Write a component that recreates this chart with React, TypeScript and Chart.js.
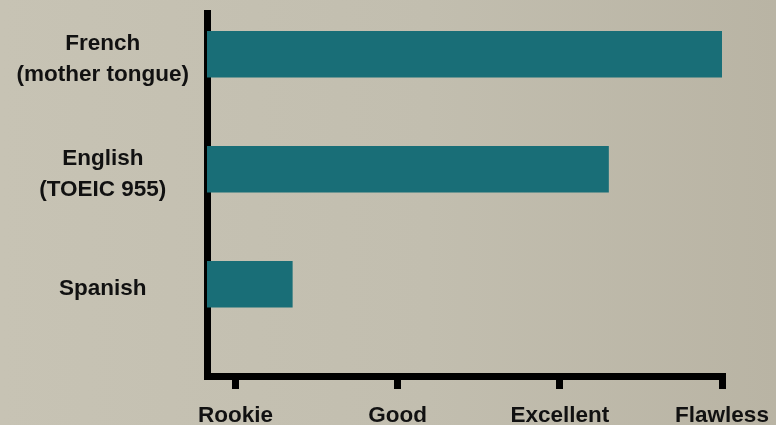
import React, { useEffect, useRef } from "react";
import { Chart, registerables } from "chart.js";

Chart.register(...registerables);

// Category labels (y axis), one entry per language
const LANGUAGES: string[][] = [["French", "(mother tongue)"], ["English", "(TOEIC 955)"], ["Spanish"]];
// Proficiency values (0 = Rookie ... 3 = Flawless)
const LEVEL_VALUES: number[] = [3, 2.3, 0.35];
// Tick labels on the value axis
const LEVEL_TICKS: string[] = ["Rookie", "Good", "Excellent", "Flawless"];

const X_MIN = -0.176;
const X_MAX = 3;
const Y_MIN = -0.359;
const Y_MAX = 2.798;

const FONT_FAMILY = "'Liberation Sans', Arial, Helvetica, sans-serif";

export default function App() {
  const ref = useRef<HTMLCanvasElement>(null);

  useEffect(() => {
    if (!ref.current) return;
    const font = { family: FONT_FAMILY, size: 22.5, weight: "bold" as const };
    const chart = new Chart(ref.current, {
      type: "bar",
      data: {
        datasets: [
          {
            data: LEVEL_VALUES.map((v, i) => ({ x: v, y: i })),
            backgroundColor: "#196e77",
            borderWidth: 0,
            barThickness: 46,
            base: X_MIN,
          } as any,
        ],
      },
      options: {
        indexAxis: "y",
        animation: false,
        responsive: false,
        layout: { padding: { top: 13, right: 54, left: 0, bottom: 0 } },
        plugins: { legend: { display: false }, tooltip: { enabled: false } },
        scales: {
          x: {
            type: "linear",
            min: X_MIN,
            max: X_MAX,
            afterBuildTicks: (s: any) => {
              s.ticks = LEVEL_TICKS.map((_, i) => ({ value: i }));
            },
            afterFit: (s: any) => {
              s.height = 49;
              s.paddingLeft = 0;
              s.paddingRight = 0;
            },
            ticks: {
              callback: (v: any) => LEVEL_TICKS[Math.round(Number(v))],
              font,
              color: "#111",
              padding: 13,
              autoSkip: false,
              maxRotation: 0,
            },
            grid: {
              display: true,
              drawOnChartArea: false,
              drawTicks: true,
              tickLength: 13,
              lineWidth: 7,
              color: "#000",
            },
            border: { display: true, width: 7, color: "#000" },
          },
          y: {
            type: "linear",
            reverse: true,
            offset: false,
            min: Y_MIN,
            max: Y_MAX,
            afterBuildTicks: (s: any) => {
              s.ticks = LANGUAGES.map((_, i) => ({ value: i }));
            },
            afterFit: (s: any) => {
              s.width = 207;
              s.paddingTop = 0;
              s.paddingBottom = 0;
            },
            ticks: {
              callback: (v: any) => LANGUAGES[Math.round(Number(v))],
              crossAlign: "center",
              padding: 18,
              labelOffset: 5,
              autoSkip: false,
              color: "#111",
              font: { ...font, lineHeight: 1.34 },
            },
            grid: { display: false, drawTicks: false, tickLength: 0 },
            border: { display: true, width: 7, color: "#000" },
          },
        },
      } as any,
    });
    return () => chart.destroy();
  }, []);

  return (
    <div
      style={{
        position: "fixed",
        left: 0,
        top: 0,
        width: 776,
        height: 425,
        background: "linear-gradient(90deg, #c7c3b4 0%, #c2beaf 55%, #b9b4a4 100%)",
      }}
    >
      <canvas ref={ref} width={776} height={425} style={{ display: "block" }} />
    </div>
  );
}
